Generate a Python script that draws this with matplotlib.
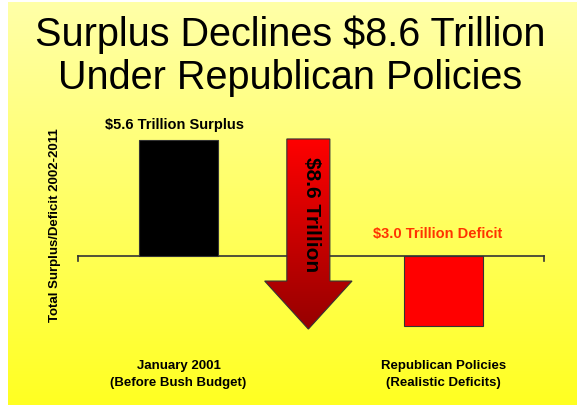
import numpy as np
import matplotlib.pyplot as plt
from matplotlib.patches import FancyArrow
from matplotlib.colors import LinearSegmentedColormap

plt.rcParams['font.family'] = ['Liberation Sans', 'DejaVu Sans']

# data
categories = ['January 2001\n(Before Bush Budget)', 'Republican Policies\n(Realistic Deficits)']
values = [5.6, -3.4]          # bar heights as drawn in the picture ($ trillion)
bar_labels = ['$5.6 Trillion Surplus', '$3.0 Trillion Deficit']
decline_label = '$8.6 Trillion'
title = 'Surplus Declines $8.6 Trillion\nUnder Republican Policies'
ylabel = 'Total Surplus/Deficit 2002-2011'

W, H = 581, 406
fig = plt.figure(figsize=(W / 100, H / 100), dpi=100)

# yellow gradient background
bg = fig.add_axes([8 / W, 0, 569 / W, 403 / H], zorder=-1)
grad = np.linspace(0, 1, 256).reshape(-1, 1)
bg_cmap = LinearSegmentedColormap.from_list('bg', ['#FFFFA8', '#FFFF22'])
bg.imshow(grad, aspect='auto', cmap=bg_cmap, extent=[0, 1, 0, 1], origin='upper')
bg.axis('off')

fig.text(0.5, 1 - 56 / H, title, ha='center', va='center', fontsize=28.5,
         linespacing=1.18)

# main axes
ax = fig.add_axes([78 / W, (H - 345) / H, 466 / W, 245 / H])
ax.set_facecolor('none')
for s in ax.spines.values():
    s.set_visible(False)

x = [0, 2]
ax.bar(x, values, width=0.6, color=['black', '#FF0000'],
       edgecolor='#333333', linewidth=0.8, zorder=2)

# zero line with end ticks
ax.plot([-0.76, 2.76], [0, 0], color='#333333', lw=1.2, zorder=1, clip_on=False)
for xe in (-0.76, 2.76):
    ax.plot([xe, xe], [0, -0.25], color='#333333', lw=1.2, clip_on=False)

ax.text(-0.03, 6.38, bar_labels[0], ha='center', va='center',
        fontsize=10.5, fontweight='bold', color='black')
ax.text(1.96, 1.11, bar_labels[1], ha='center', va='center',
        fontsize=10.5, fontweight='bold', color='#FF3300')

# the big decline arrow with red gradient
ax_x = 0.98
top = values[0] + 0.05
length = 9.18
arrow = FancyArrow(ax_x, top, 0, -length, width=0.325, head_width=0.66,
                   head_length=2.32, length_includes_head=True,
                   facecolor='none', edgecolor='#333333', lw=0.8, zorder=4)
ax.add_patch(arrow)
red_cmap = LinearSegmentedColormap.from_list('red', ['#FF0000', '#960000'])
im = ax.imshow(grad, aspect='auto', cmap=red_cmap, origin='upper',
               extent=[ax_x - 0.4, ax_x + 0.4, top - length, top], zorder=3)
im.set_clip_path(arrow)
ax.set_xlim(-0.76, 2.76)
ax.set_ylim(-4.25, 7.58)
ax.text(1.0, 2.03, decline_label, rotation=-90, ha='center', va='center',
        fontsize=15, fontweight='bold', color='black', zorder=5)

ax.set_yticks([])
ax.set_xticks(x)
ax.set_xticklabels(categories, fontsize=9.5, fontweight='bold', linespacing=1.5)
ax.tick_params(axis='x', length=0, pad=11)

ax.set_ylabel(ylabel, fontsize=9.5, fontweight='bold')
ax.yaxis.set_label_coords(-0.036, 0.49)

fig.savefig('out.png', dpi=100)
